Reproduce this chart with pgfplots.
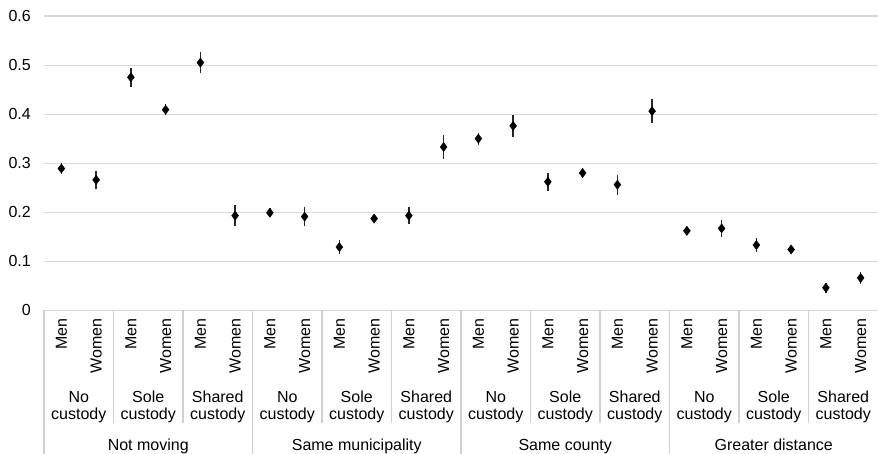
\documentclass[border=0pt]{standalone}
\usepackage{pgfplots}
\pgfplotsset{compat=1.18}
\usepackage{fontspec}
\setmainfont{Liberation Sans}
\definecolor{gridgray}{HTML}{D9D9D9}
\definecolor{sepgray}{HTML}{D0D0D0}
\begin{document}
\fontsize{16bp}{19bp}\selectfont
\begin{tikzpicture}[font=\fontsize{16bp}{19bp}\selectfont]
\useasboundingbox (0,0) rectangle (878bp,454bp);
\begin{axis}[
  at={(44bp,143.7bp)}, anchor=south west,
  scale only axis, width=834bp, height=294.3bp,
  xmin=-0.5, xmax=23.5, ymin=0, ymax=0.6,
  ytick={0,0.1,0.2,0.3,0.4,0.5,0.6},
  yticklabels={0,0.1,0.2,0.3,0.4,0.5,0.6},
  xtick=\empty,
  ymajorgrids, grid style={gridgray, line width=1.1bp},
  axis line style={draw=none},
  major tick length=0pt,
  yticklabel style={anchor=east, inner sep=0pt, xshift=-13bp, font=\fontsize{16bp}{19bp}\selectfont},
  clip=false,
]
\addplot[only marks, black, mark=diamond*, mark size=4.6bp, mark options={fill=black, draw=black},
  error bars/.cd, y dir=both, y explicit, error mark=none,
  error bar style={line width=1.3bp, black!85}]
  table[x=x, y=y, y error=e] {
x y e
0 0.289 0.011
1 0.266 0.019
2 0.475 0.019
3 0.409 0.011
4 0.505 0.022
5 0.193 0.021
6 0.199 0.009
7 0.191 0.019
8 0.129 0.014
9 0.187 0.008
10 0.193 0.017
11 0.333 0.024
12 0.350 0.012
13 0.376 0.022
14 0.262 0.018
15 0.280 0.010
16 0.256 0.020
17 0.406 0.024
18 0.162 0.008
19 0.167 0.018
20 0.133 0.014
21 0.124 0.008
22 0.046 0.010
23 0.066 0.013
};
\end{axis}
% separators
\foreach \k in {0,...,11}{
  \pgfmathtruncatemacro{\m}{mod(\k,3)}
  \ifnum\m=0
    \draw[sepgray, line width=1.1bp] ({44bp+69.5bp*\k},144bp) -- ({44bp+69.5bp*\k},0bp);
  \else
    \draw[sepgray, line width=1.1bp] ({44bp+69.5bp*\k},144bp) -- ({44bp+69.5bp*\k},31bp);
  \fi
}
% Men / Women labels
\foreach \k in {0,...,11}{
  \node[rotate=90, anchor=east, inner sep=0pt] at ({44bp+69.5bp*\k+17.375bp},135.5bp) {Men};
  \node[rotate=90, anchor=east, inner sep=0pt] at ({44bp+69.5bp*\k+52.125bp},135.5bp) {Women};
}
% custody labels
\foreach \k/\a/\b in {0/No/custody,1/Sole/custody,2/Shared/custody,3/No/custody,4/Sole/custody,5/Shared/custody,6/No/custody,7/Sole/custody,8/Shared/custody,9/No/custody,10/Sole/custody,11/Shared/custody}{
  \node[anchor=base, inner sep=0pt] at ({44bp+69.5bp*\k+34.75bp},51.7bp) {\a};
  \node[anchor=base, inner sep=0pt] at ({44bp+69.5bp*\k+34.75bp},35bp) {\b};
}
% group labels
\foreach \g/\t in {0/Not moving,1/Same municipality,2/Same county,3/Greater distance}{
  \node[anchor=base, inner sep=0pt] at ({44bp+208.5bp*\g+104.25bp},3.4bp) {\t};
}
\end{tikzpicture}
\end{document}
